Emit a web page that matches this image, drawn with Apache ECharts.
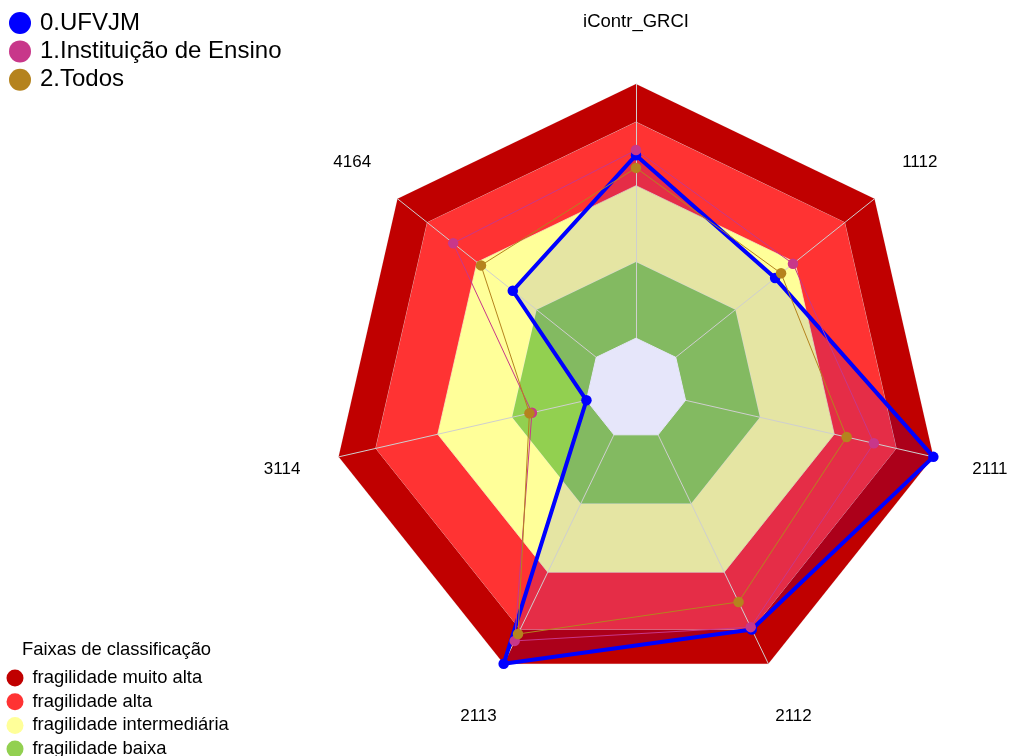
<!DOCTYPE html>
<html>
<head>
<meta charset="utf-8">
<script src="https://cdn.jsdelivr.net/npm/echarts@6/dist/echarts.min.js"></script>
<style>
  html, body { margin: 0; padding: 0; background: #fff; }
  #chart { width: 1013px; height: 756px; }
</style>
</head>
<body>
<div id="chart"></div>
<script>
// eixos, a partir do topo em sentido anti-horário (como o ECharts desenha)
const eixos = ['', '4164', '3114', '2113', '2112', '2111', '1112'];

// valores das séries (mesma ordem dos eixos)
const ufvjm = [0.72, 0.42, 0.0, 1.0, 0.85, 1.0, 0.50];
const instituicao = [0.74, 0.72, 0.22, 0.90, 0.84, 0.76, 0.59];
const todos = [0.67, 0.58, 0.23, 0.87, 0.73, 0.65, 0.53];

// faixas de classificação (limite superior de cada faixa)
const faixasNomes = ['fragilidade muito alta', 'fragilidade alta', 'fragilidade intermediária', 'fragilidade baixa'];
const faixasLimites = [1, 0.85, 0.6, 0.3];
const faixasCores = ['#C00000', '#FF3333', '#FFFF99', '#92D050'];
const centroLimite = 0;

const serieNomes = ['0.UFVJM', '1.Instituição de Ensino', '2.Todos'];
const serieCores = ['#0000FF', '#C8378A', '#B5831E'];

const fonte = 'Liberation Sans, Arial, sans-serif';
const cheio = v => eixos.map(() => v);

var myChart = echarts.init(document.getElementById('chart'));

// faixas coloridas
const seriesFaixas = faixasNomes.map((nome, i) => ({
  name: nome,
  type: 'radar',
  z: 1,
  silent: true,
  symbol: 'none',
  color: faixasCores[i],
  lineStyle: { color: 'rgba(235,235,235,0.75)', width: 1 },
  areaStyle: { color: faixasCores[i], opacity: 1 },
  data: [{ value: cheio(faixasLimites[i]) }]
}));

const seriesDados = [ufvjm, instituicao, todos].map((vals, i) => ({
  name: serieNomes[i],
  type: 'radar',
  z: 5,
  color: serieCores[i],
  symbol: 'circle',
  symbolSize: 10.5,
  lineStyle: { color: serieCores[i], width: i === 0 ? 4 : 1 },
  itemStyle: { color: serieCores[i] },
  data: [{ value: vals }]
}));

myChart.setOption({
  animation: false,
  title: [
    {
      text: 'iContr_GRCI',
      left: 636,
      top: 12,
      textAlign: 'center',
      padding: 0,
      textStyle: { fontFamily: fonte, fontSize: 18.5, fontWeight: 'normal', color: '#000' }
    },
    {
      text: 'Faixas de classificação',
      left: 22,
      top: 641,
      padding: 0,
      textStyle: { fontFamily: fonte, fontSize: 18.4, fontWeight: 'normal', color: '#000' }
    }
  ],
  legend: [
    {
      data: serieNomes,
      orient: 'vertical',
      left: 9,
      top: 11,
      height: 120,
      padding: 0,
      icon: 'circle',
      itemWidth: 30,
      itemHeight: 22,
      itemGap: 4.4,
      selectedMode: false,
      itemStyle: { borderWidth: 0 },
      textStyle: { fontFamily: fonte, fontSize: 24, lineHeight: 22, color: '#000' }
    },
    {
      data: faixasNomes,
      orient: 'vertical',
      left: 6.5,
      top: 669,
      height: 120,
      padding: 0,
      icon: 'circle',
      itemWidth: 25,
      itemHeight: 17,
      itemGap: 5.7,
      selectedMode: false,
      itemStyle: { borderWidth: 0 },
      textStyle: { fontFamily: fonte, fontSize: 18.4, lineHeight: 17, color: '#000' }
    }
  ],
  radar: {
    z: 3,
    center: [636, 389],
    radius: 305,
    startAngle: 90,
    shape: 'polygon',
    splitNumber: 1,
    nameGap: 58,
    axisName: {
      color: '#000',
      fontFamily: fonte,
      fontSize: 17,
      align: 'center',
      verticalAlign: 'middle'
    },
    axisLine: { lineStyle: { color: '#cfcfcf', width: 1 } },
    splitLine: { show: false },
    splitArea: { show: false },
    indicator: eixos.map(n => ({ name: n, min: -0.2, max: 1 }))
  },
  series: [
    ...seriesFaixas,
    // preenchimento translúcido da UFVJM
    {
      name: 'ufvjm_area',
      type: 'radar',
      z: 2,
      silent: true,
      symbol: 'none',
      lineStyle: { width: 0 },
      areaStyle: { color: 'rgba(0,0,255,0.1)', opacity: 1 },
      data: [{ value: ufvjm }]
    },
    // centro vazio
    {
      name: 'centro',
      type: 'radar',
      z: 4,
      silent: true,
      symbol: 'none',
      lineStyle: { color: '#E6E6FA', width: 1 },
      areaStyle: { color: '#E6E6FA', opacity: 1 },
      data: [{ value: cheio(centroLimite) }]
    },
    ...seriesDados
  ]
});
</script>
</body>
</html>
